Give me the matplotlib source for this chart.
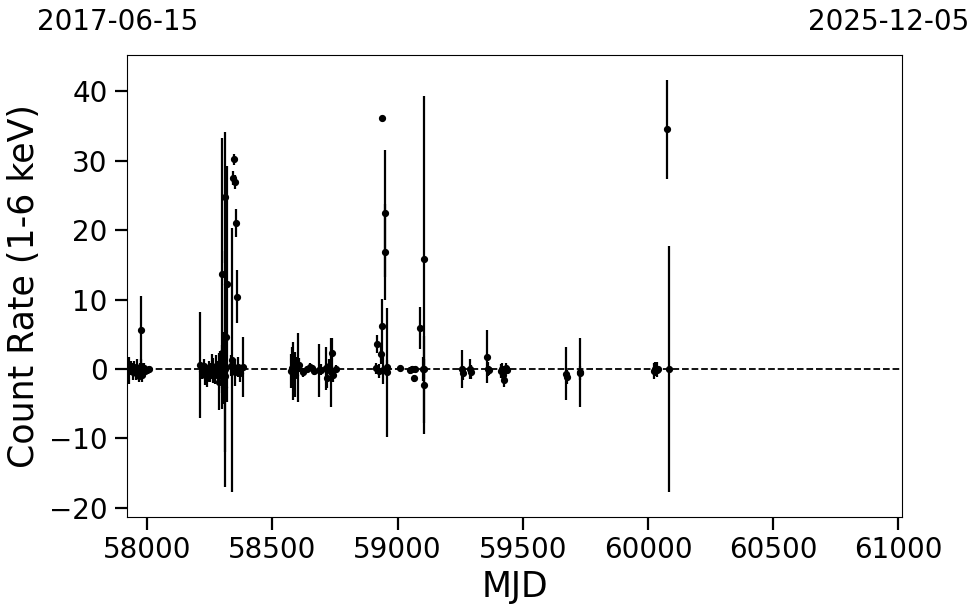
import matplotlib
matplotlib.use("Agg")
import matplotlib.pyplot as plt
import numpy as np

# ---- data ----
mjd = [
    # cluster 2017
    57928, 57935, 57941, 57948, 57955, 57960, 57965, 57970, 57973, 57976, 57980, 57985, 57990, 58000, 58008,
    # cluster 2018
    58211, 58218, 58225, 58232, 58239, 58246, 58252, 58258, 58263, 58270, 58276, 58282, 58287, 58292, 58297,
    58299, 58303, 58306, 58309, 58311, 58312, 58314, 58319, 58339, 58333, 58341, 58347, 58352, 58355, 58357,
    58350, 58362, 58370, 58383,
    # cluster 2019
    58572, 58577, 58582, 58586, 58590, 58596, 58601, 58606, 58620, 58637, 58650, 58657, 58665, 58686, 58695,
    58713, 58718, 58726, 58734, 58738, 58740, 58753,
    # cluster 2020
    58913, 58917, 58925, 58933, 58937, 58937, 58940, 58948, 58950, 58956, 58958,
    59009, 59049, 59058, 59065, 59069, 59089, 59100, 59105, 59107, 59104,
    # later
    59258, 59262, 59290, 59292, 59358, 59362, 59365, 59412, 59418, 59422, 59426, 59432, 59438,
    59674, 59676, 59727, 59730, 60024, 60029, 60034, 60038, 60074, 60082,
]
rate = [
    -0.2, 0.1, -0.4, 0.3, -0.6, 0.2, -1.0, -0.3, 5.6, 0.4, -0.8, 0.1, -0.3, -0.2, 0.0,
    0.6, -0.3, 0.4, -0.8, -1.3, 0.2, -0.5, 0.3, -0.2, -0.9, 0.5, -0.4, -1.8, 0.6, 0.0,
    13.7, 2.4, -2.6, 24.7, 0.0, -1.0, 4.6, 12.2, 1.3, 0.5, 27.5, 30.2, 26.9, 21.0, 10.4,
    -0.5, 0.3, -0.6, 0.3,
    -0.3, 0.2, -0.3, 0.5, -0.8, 0.3, 0.2, 0.6, -0.5, 0.0, 0.3, 0.1, -0.3, -0.2, -0.1,
    0.1, -1.3, 0.5, -0.5, 2.3, -0.9, 0.0,
    0.1, 3.6, -0.3, 2.2, 36.1, 6.2, -0.2, 22.4, 16.8, -0.5, 0.3,
    0.1, -0.2, 0.0, -1.3, 0.0, 5.9, 0.0, 15.8, -2.3, 0.0,
    0.0, -0.6, 0.0, -0.4, 1.8, 0.0, -0.2, -0.3, 0.0, -0.9, -1.6, 0.1, -0.2,
    -0.7, -1.2, -0.5, -0.6, -0.3, 0.0, -0.1, 0.0, 34.5, 0.0,
]
err = [
    2.0, 1.0, 1.2, 0.8, 1.0, 1.3, 0.9, 1.1, 4.9, 1.0, 1.0, 0.8, 0.6, 0.5, 0.5,
    7.6, 1.2, 1.0, 1.5, 1.3, 1.0, 1.4, 1.8, 1.8, 1.2, 1.5, 1.6, 4.1, 2.0, 3.5,
    19.5, 3.0, 2.4, 9.4, 17.0, 11.0, 3.0, 17.0, 19.0, 1.5, 1.0, 0.8, 1.0, 2.0, 3.8,
    2.0, 1.5, 1.2, 4.3,
    2.5, 3.0, 4.2, 2.0, 3.2, 1.5, 5.0, 1.0, 0.6, 0.5, 0.5, 0.5, 0.6, 3.8, 0.8,
    3.1, 1.5, 1.0, 5.0, 2.2, 1.0, 0.6,
    0.8, 1.3, 1.0, 1.5, 0.3, 3.9, 2.0, 9.1, 6.9, 9.3, 1.0,
    0.4, 0.5, 0.4, 0.5, 0.5, 3.0, 1.7, 23.5, 7.0, 1.5,
    2.7, 1.0, 1.5, 1.0, 3.8, 1.0, 0.6, 1.0, 0.8, 1.0, 1.0, 0.7, 0.5,
    3.8, 1.0, 5.0, 1.0, 1.2, 1.0, 1.1, 0.3, 7.1, 17.75,
]
top_labels = ["2017-06-15", "2025-12-05"]
xlim = (57919, 61014)
ylim = (-21.3, 45.2)
xticks = [58000, 58500, 59000, 59500, 60000, 60500, 61000]
yticks = [-20, -10, 0, 10, 20, 30, 40]

fig = plt.figure(figsize=(9.8, 6.13), dpi=100)
ax = fig.add_axes([127 / 980, 96 / 613, 775 / 980, 462 / 613])

ax.errorbar(mjd, rate, yerr=err, fmt="o", color="black", ms=4.2,
            elinewidth=1.6, capsize=0, zorder=3)
ax.axhline(0, color="black", ls="--", lw=1.3, zorder=2)

ax.set_xlim(*xlim)
ax.set_ylim(*ylim)
ax.set_xticks(xticks)
ax.set_yticks(yticks)
ax.tick_params(axis="both", which="major", length=9, width=1.6, labelsize=20, pad=5)
ax.set_xlabel("MJD", fontsize=25, labelpad=4)
ax.set_ylabel("Count Rate (1-6 keV)", fontsize=25, labelpad=6)

fig.text(118 / 980, 1 - 22 / 613, top_labels[0], ha="center", va="center", fontsize=20)
fig.text(889 / 980, 1 - 22 / 613, top_labels[1], ha="center", va="center", fontsize=20)

fig.savefig("out.png", dpi=100)
